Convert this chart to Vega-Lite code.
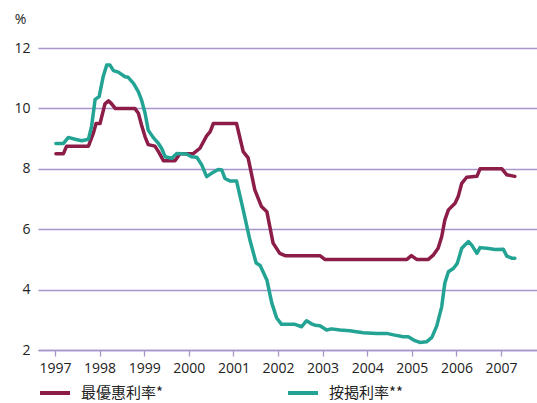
{
  "$schema": "https://vega.github.io/schema/vega-lite/v6.json",
  "width": 499,
  "height": 302,
  "autosize": "none",
  "padding": {"left": 38, "top": 48, "right": 0, "bottom": 53},
  "background": "white",
  "config": {"view": {"stroke": null}, "font": "Open Sans"},
  "datasets": {
    "prime": [
      {"t": 1997.02, "v": 8.5}, {"t": 1997.19, "v": 8.5}, {"t": 1997.26, "v": 8.75}, {"t": 1997.75, "v": 8.75},
      {"t": 1997.86, "v": 9.18}, {"t": 1997.92, "v": 9.5}, {"t": 1998.01, "v": 9.5}, {"t": 1998.12, "v": 10.15},
      {"t": 1998.2, "v": 10.25}, {"t": 1998.27, "v": 10.15}, {"t": 1998.35, "v": 10.0}, {"t": 1998.79, "v": 10.0},
      {"t": 1998.87, "v": 9.84}, {"t": 1998.94, "v": 9.45}, {"t": 1999.02, "v": 9.06}, {"t": 1999.09, "v": 8.8},
      {"t": 1999.24, "v": 8.75}, {"t": 1999.32, "v": 8.57}, {"t": 1999.43, "v": 8.27}, {"t": 1999.69, "v": 8.27},
      {"t": 1999.8, "v": 8.5}, {"t": 2000.1, "v": 8.5}, {"t": 2000.25, "v": 8.68}, {"t": 2000.4, "v": 9.09},
      {"t": 2000.48, "v": 9.23}, {"t": 2000.55, "v": 9.5}, {"t": 2001.07, "v": 9.5}, {"t": 2001.22, "v": 8.57},
      {"t": 2001.33, "v": 8.36}, {"t": 2001.48, "v": 7.3}, {"t": 2001.63, "v": 6.75}, {"t": 2001.75, "v": 6.58},
      {"t": 2001.89, "v": 5.54}, {"t": 2002.04, "v": 5.2}, {"t": 2002.16, "v": 5.125}, {"t": 2002.94, "v": 5.125},
      {"t": 2003.05, "v": 5.0}, {"t": 2004.89, "v": 5.0}, {"t": 2004.99, "v": 5.125}, {"t": 2005.11, "v": 5.0},
      {"t": 2005.37, "v": 5.0}, {"t": 2005.48, "v": 5.14}, {"t": 2005.59, "v": 5.37}, {"t": 2005.67, "v": 5.75},
      {"t": 2005.74, "v": 6.3}, {"t": 2005.82, "v": 6.64}, {"t": 2005.97, "v": 6.86}, {"t": 2006.04, "v": 7.08},
      {"t": 2006.12, "v": 7.52}, {"t": 2006.23, "v": 7.72}, {"t": 2006.46, "v": 7.75}, {"t": 2006.53, "v": 8.0},
      {"t": 2007.02, "v": 8.0}, {"t": 2007.13, "v": 7.8}, {"t": 2007.31, "v": 7.75}
    ],
    "mortgage": [
      {"t": 1997.02, "v": 8.84}, {"t": 1997.19, "v": 8.84}, {"t": 1997.3, "v": 9.04}, {"t": 1997.45, "v": 8.98},
      {"t": 1997.6, "v": 8.93}, {"t": 1997.75, "v": 8.98}, {"t": 1997.82, "v": 9.4}, {"t": 1997.9, "v": 10.3},
      {"t": 1997.99, "v": 10.39}, {"t": 1998.08, "v": 11.05}, {"t": 1998.16, "v": 11.44}, {"t": 1998.23, "v": 11.44},
      {"t": 1998.31, "v": 11.25}, {"t": 1998.42, "v": 11.2}, {"t": 1998.57, "v": 11.05}, {"t": 1998.64, "v": 11.03},
      {"t": 1998.76, "v": 10.83}, {"t": 1998.87, "v": 10.55}, {"t": 1998.94, "v": 10.28}, {"t": 1999.02, "v": 9.84},
      {"t": 1999.09, "v": 9.28}, {"t": 1999.2, "v": 9.04}, {"t": 1999.32, "v": 8.84}, {"t": 1999.39, "v": 8.68},
      {"t": 1999.47, "v": 8.4}, {"t": 1999.62, "v": 8.35}, {"t": 1999.73, "v": 8.51}, {"t": 1999.95, "v": 8.49},
      {"t": 2000.06, "v": 8.4}, {"t": 2000.18, "v": 8.38}, {"t": 2000.29, "v": 8.13}, {"t": 2000.4, "v": 7.74},
      {"t": 2000.51, "v": 7.85}, {"t": 2000.66, "v": 7.98}, {"t": 2000.74, "v": 7.96}, {"t": 2000.81, "v": 7.68},
      {"t": 2000.92, "v": 7.6}, {"t": 2001.07, "v": 7.6}, {"t": 2001.22, "v": 6.64}, {"t": 2001.37, "v": 5.64},
      {"t": 2001.51, "v": 4.88}, {"t": 2001.6, "v": 4.8}, {"t": 2001.75, "v": 4.32}, {"t": 2001.86, "v": 3.56},
      {"t": 2001.97, "v": 3.06}, {"t": 2002.08, "v": 2.85}, {"t": 2002.38, "v": 2.85}, {"t": 2002.53, "v": 2.77},
      {"t": 2002.64, "v": 2.97}, {"t": 2002.76, "v": 2.86}, {"t": 2002.83, "v": 2.82}, {"t": 2002.94, "v": 2.8},
      {"t": 2003.09, "v": 2.66}, {"t": 2003.2, "v": 2.7}, {"t": 2003.39, "v": 2.66}, {"t": 2003.61, "v": 2.64},
      {"t": 2003.91, "v": 2.57}, {"t": 2004.21, "v": 2.55}, {"t": 2004.44, "v": 2.55}, {"t": 2004.59, "v": 2.5},
      {"t": 2004.81, "v": 2.44}, {"t": 2004.92, "v": 2.44}, {"t": 2005.07, "v": 2.31}, {"t": 2005.18, "v": 2.25},
      {"t": 2005.33, "v": 2.27}, {"t": 2005.45, "v": 2.42}, {"t": 2005.56, "v": 2.8}, {"t": 2005.67, "v": 3.43},
      {"t": 2005.74, "v": 4.21}, {"t": 2005.82, "v": 4.59}, {"t": 2005.93, "v": 4.7}, {"t": 2006.02, "v": 4.87},
      {"t": 2006.12, "v": 5.37}, {"t": 2006.27, "v": 5.59}, {"t": 2006.34, "v": 5.48}, {"t": 2006.46, "v": 5.2},
      {"t": 2006.53, "v": 5.39}, {"t": 2006.68, "v": 5.37}, {"t": 2006.87, "v": 5.33}, {"t": 2007.05, "v": 5.34},
      {"t": 2007.13, "v": 5.11}, {"t": 2007.24, "v": 5.04}, {"t": 2007.31, "v": 5.04}
    ]
  },
  "layer": [
    {
      "data": {"name": "prime"},
      "transform": [
        {"calculate": "'最優惠利率*'", "as": "series"},
        {"window": [{"op": "row_number", "as": "o"}]}
      ],
      "mark": {"type": "line", "strokeWidth": 3.5, "strokeJoin": "round", "strokeCap": "round", "clip": true},
      "encoding": {
        "x": {"field": "t", "type": "quantitative", "scale": {"domain": [1996.619, 2007.807], "nice": false, "zero": false},
          "axis": {"values": [1997, 1998, 1999, 2000, 2001, 2002, 2003, 2004, 2005, 2006, 2007], "format": "d", "title": null,
            "grid": false, "domainColor": "#A994CB", "domainWidth": 1.3, "tickColor": "#A994CB", "tickSize": 6, "tickWidth": 1.3,
            "labelFontSize": 14, "labelColor": "#222222", "labelPadding": 5, "labelFlush": false, "labelOverlap": false}},
        "y": {"field": "v", "type": "quantitative", "scale": {"domain": [2, 12], "nice": false, "zero": false},
          "axis": {"values": [2, 4, 6, 8, 10, 12], "title": "%", "titleAngle": 0, "titleX": -18, "titleY": -29, "titleAlign": "center",
            "titleBaseline": "middle",
            "titleFontSize": 14, "titleFontWeight": "normal", "titleColor": "#222222",
            "domain": false, "ticks": false, "grid": true, "gridColor": "#A994CB", "gridWidth": 1.3,
            "labelFontSize": 14, "labelColor": "#222222", "labelPadding": 8}},
        "color": {"field": "series", "type": "nominal",
          "scale": {"domain": ["最優惠利率*", "按揭利率**"], "range": ["#8C1C48", "#22A393"]},
          "legend": {"orient": "none", "legendX": 0, "legendY": 328, "direction": "horizontal", "title": null,
            "symbolType": "stroke", "symbolSize": 900, "symbolStrokeWidth": 4, "labelFontSize": 15, "labelColor": "#222222",
            "labelFont": "Noto Sans CJK TC", "labelOffset": 9, "columnPadding": 116}},
        "order": {"field": "o", "type": "quantitative"}
      }
    },
    {
      "data": {"name": "mortgage"},
      "transform": [
        {"calculate": "'按揭利率**'", "as": "series"},
        {"window": [{"op": "row_number", "as": "o"}]}
      ],
      "mark": {"type": "line", "strokeWidth": 3.5, "strokeJoin": "round", "strokeCap": "round", "clip": true},
      "encoding": {
        "x": {"field": "t", "type": "quantitative"},
        "y": {"field": "v", "type": "quantitative"},
        "color": {"field": "series", "type": "nominal"},
        "order": {"field": "o", "type": "quantitative"}
      }
    }
  ]
}
